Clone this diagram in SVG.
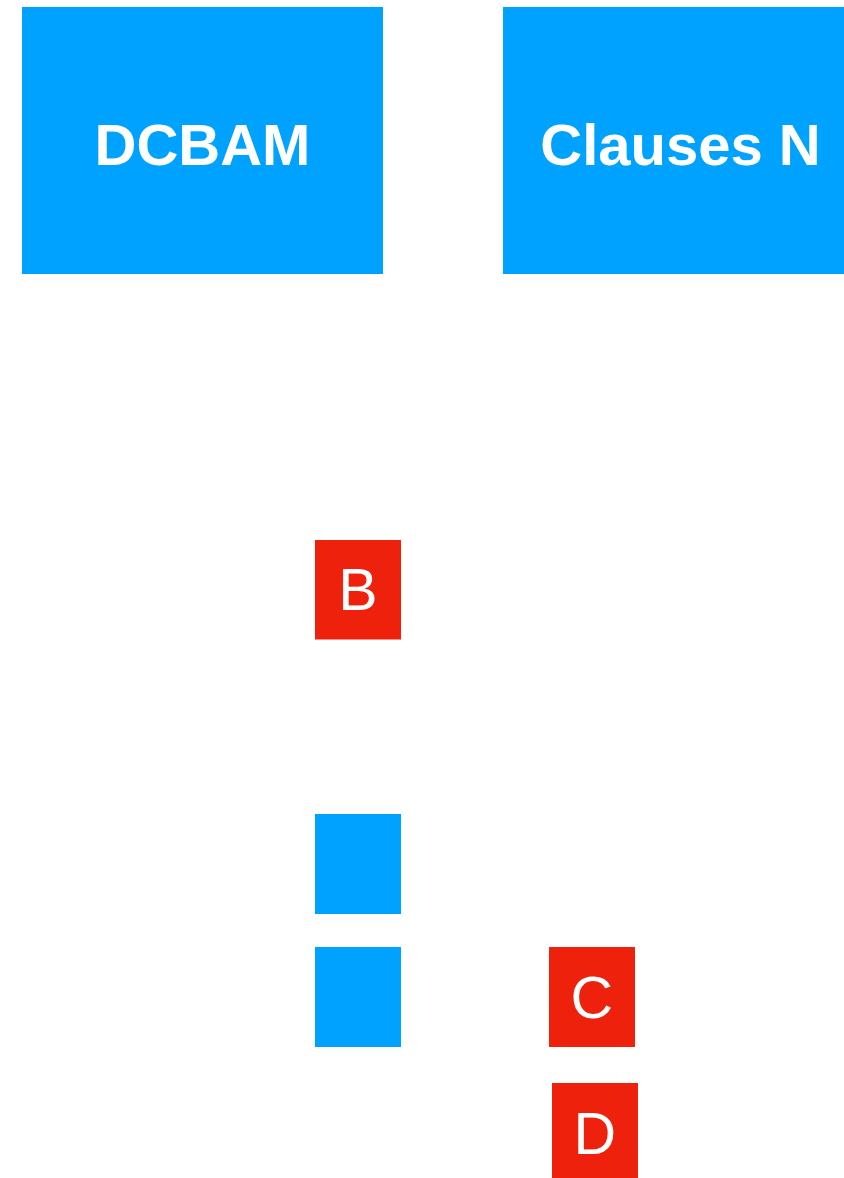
<svg xmlns="http://www.w3.org/2000/svg" width="844" height="1178" viewBox="0 0 844 1178">
  <style>
    .blue { fill: #00A2FF; }
    .red { fill: #EE220C; }
    .big { font-family: "Liberation Sans", Arial, sans-serif; font-weight: bold; font-size: 58px; fill: #FFFFFF; text-anchor: middle; }
    .letter { font-family: "Liberation Sans", Arial, sans-serif; font-size: 59px; fill: #FFFFFF; text-anchor: middle; }
  </style>
  <rect width="844" height="1178" fill="#FFFFFF"/>
  <g id="connectors"></g>
  <g id="node-dcbam">
    <rect class="blue" x="22" y="7" width="361" height="267"/>
    <text class="big" x="202.5" y="164.5">DCBAM</text>
  </g>
  <g id="node-clauses">
    <rect class="blue" x="503" y="7" width="355" height="267"/>
    <text class="big" x="680.5" y="164.5">Clauses N</text>
  </g>
  <g id="node-b">
    <rect class="red" x="315" y="540" width="86" height="99.5"/>
    <text class="letter" x="358" y="610">B</text>
  </g>
  <g id="node-blue1">
    <rect class="blue" x="315" y="814" width="86" height="100"/>
  </g>
  <g id="node-blue2">
    <rect class="blue" x="315" y="947" width="86" height="100"/>
  </g>
  <g id="node-c">
    <rect class="red" x="549" y="947" width="86" height="100"/>
    <text class="letter" x="591.7" y="1018">C</text>
  </g>
  <g id="node-d">
    <rect class="red" x="552" y="1083" width="86" height="100"/>
    <text class="letter" x="594.7" y="1154">D</text>
  </g>
</svg>
